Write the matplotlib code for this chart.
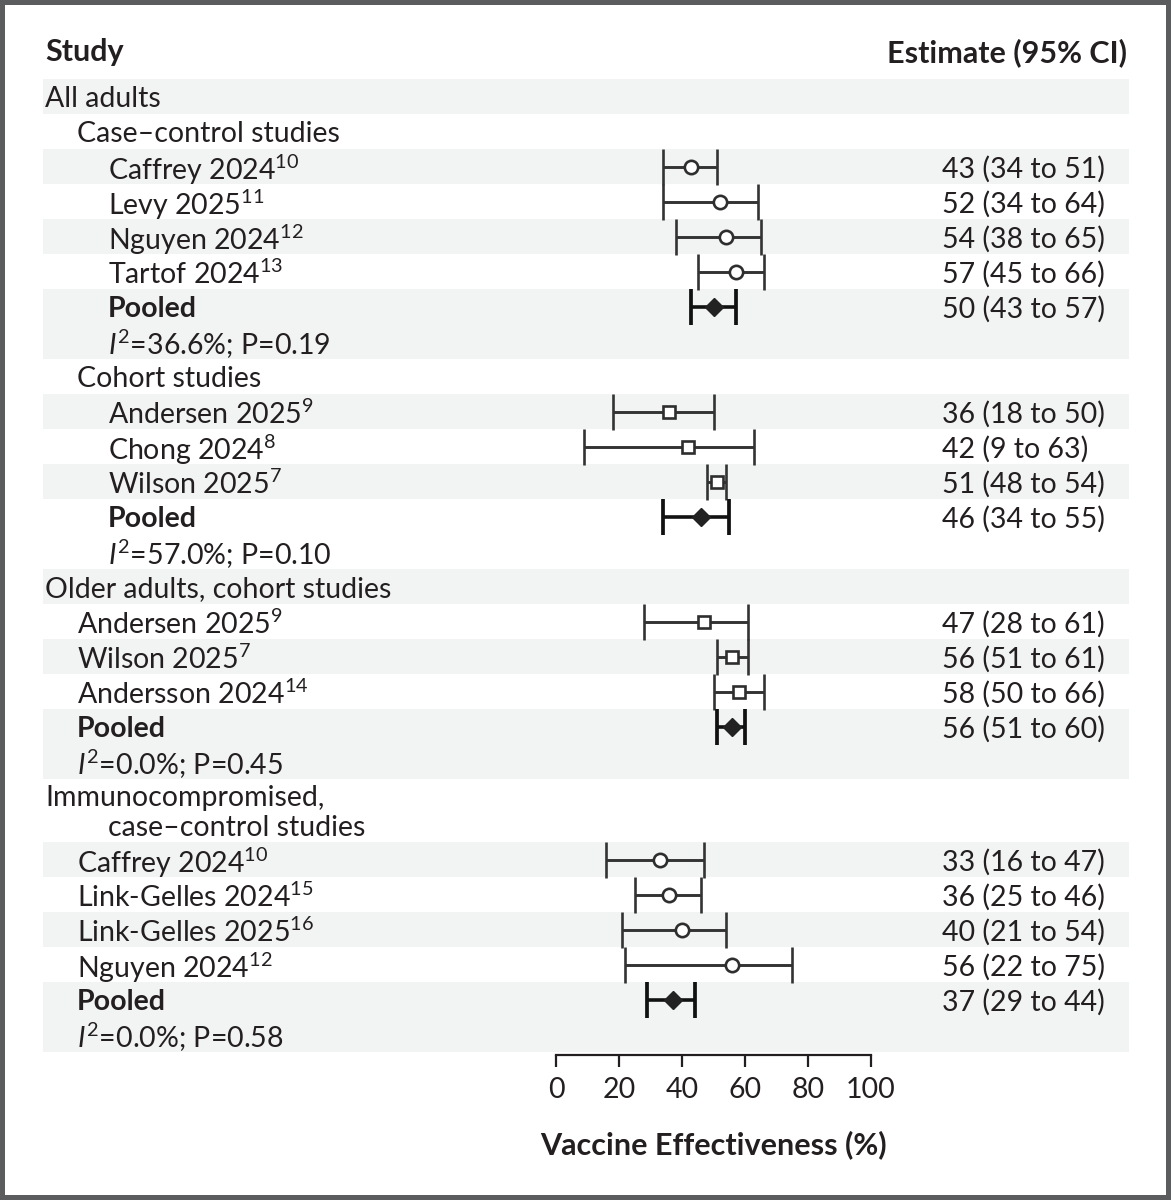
import matplotlib
matplotlib.use("Agg")
import matplotlib.pyplot as plt
from matplotlib.patches import Rectangle
from matplotlib.transforms import blended_transform_factory

plt.rcParams['font.family'] = ['Lato', 'DejaVu Sans']
plt.rcParams['mathtext.fontset'] = 'custom'
plt.rcParams['mathtext.rm'] = 'Lato'
plt.rcParams['mathtext.it'] = 'Lato:italic'
plt.rcParams['mathtext.bf'] = 'Lato:bold'
plt.rcParams['mathtext.default'] = 'regular'

## Data

adults_cc_names = ["Caffrey 2024", "Levy 2025", "Nguyen 2024", "Tartof 2024"]
adults_cc_refs = ["10", "11", "12", "13"]
adults_cc_est = [43, 52, 54, 57]
adults_cc_lo = [34, 34, 38, 45]
adults_cc_hi = [51, 64, 65, 66]
adults_cc_pooled = [50, 43, 57]
adults_cc_het = ["36.6%", "0.19"]

adults_coh_names = ["Andersen 2025", "Chong 2024", "Wilson 2025"]
adults_coh_refs = ["9", "8", "7"]
adults_coh_est = [36, 42, 51]
adults_coh_lo = [18, 9, 48]
adults_coh_hi = [50, 63, 54]
adults_coh_pooled = [46, 34, 55]
adults_coh_het = ["57.0%", "0.10"]

older_names = ["Andersen 2025", "Wilson 2025", "Andersson 2024"]
older_refs = ["9", "7", "14"]
older_est = [47, 56, 58]
older_lo = [28, 51, 50]
older_hi = [61, 61, 66]
older_pooled = [56, 51, 60]
older_het = ["0.0%", "0.45"]

immuno_names = ["Caffrey 2024", "Link-Gelles 2024", "Link-Gelles 2025", "Nguyen 2024"]
immuno_refs = ["10", "15", "16", "12"]
immuno_est = [33, 36, 40, 56]
immuno_lo = [16, 25, 21, 22]
immuno_hi = [47, 46, 54, 75]
immuno_pooled = [37, 29, 44]
immuno_het = ["0.0%", "0.58"]

xticks = [0, 20, 40, 60, 80, 100]

## Layout (pixels of the 1171x1200 picture)

W, H = 1171, 1200
ROW = 35.0
TOP = 79
AXIS_Y = 1055
X0, X100 = 556, 871
INDENT = [45, 77, 108]
EST_X = 942
BAND_L, BAND_R = 43, 1129
TXT = '#231f20'
BAND = '#f2f4f3'
FS = 20.5
FS_HEAD = 22


def row(label, level, bold=False, point=None, h=1.0, label2=None, level2=None):
    return dict(label=label, level=level, bold=bold, point=point, h=h,
                label2=label2, level2=level2)


def study_blocks(names, refs, est, lo, hi, level, marker):
    return [[row(f"{n}$^{{{r}}}$", level, point=(marker, e, l, u))]
            for n, r, e, l, u in zip(names, refs, est, lo, hi)]


def pooled_block(pooled, het, level):
    return [[row("Pooled", level, bold=True, point=('D', *pooled)),
             row(rf"$\mathit{{I}}^{{2}}$={het[0]}; P={het[1]}", level)]]


blocks = []
blocks.append([row("All adults", 0)])
blocks.append([row("Case\u2013control studies", 1)])
blocks += study_blocks(adults_cc_names, adults_cc_refs, adults_cc_est,
                       adults_cc_lo, adults_cc_hi, 2, 'o')
blocks += pooled_block(adults_cc_pooled, adults_cc_het, 2)
blocks.append([row("Cohort studies", 1)])
blocks += study_blocks(adults_coh_names, adults_coh_refs, adults_coh_est,
                       adults_coh_lo, adults_coh_hi, 2, 's')
blocks += pooled_block(adults_coh_pooled, adults_coh_het, 2)
blocks.append([row("Older adults, cohort studies", 0)])
blocks += study_blocks(older_names, older_refs, older_est, older_lo, older_hi, 1, 's')
blocks += pooled_block(older_pooled, older_het, 1)
blocks.append([row("Immunocompromised,", 0, h=1.8,
                   label2="case\u2013control studies", level2=2)])
blocks += study_blocks(immuno_names, immuno_refs, immuno_est, immuno_lo, immuno_hi, 1, 'o')
blocks += pooled_block(immuno_pooled, immuno_het, 1)

## Figure

fig = plt.figure(figsize=(W / 100, H / 100), dpi=100)
fig.patch.set_edgecolor('#5b5c5e')
fig.patch.set_linewidth(5.8)

ax = fig.add_axes([X0 / W, 1 - AXIS_Y / H, (X100 - X0) / W, (AXIS_Y - TOP) / H])
ax.patch.set_visible(False)
tr = blended_transform_factory(fig.transFigure, ax.transData)

y = 0.0
for i, block in enumerate(blocks):
    bh = sum(r['h'] for r in block)
    if i % 2 == 0:
        ax.add_patch(Rectangle((BAND_L / W, y), (BAND_R - BAND_L) / W, bh,
                               transform=tr, facecolor=BAND, edgecolor='none',
                               zorder=0, clip_on=False))
    for r in block:
        if r['label2'] is None:
            ax.text(INDENT[r['level']] / W, y + r['h'] / 2, r['label'], transform=tr,
                    ha='left', va='center_baseline', fontsize=FS, color=TXT,
                    fontweight='bold' if r['bold'] else 'normal')
        else:
            ax.text(INDENT[r['level']] / W, y + 0.46, r['label'], transform=tr,
                    ha='left', va='center_baseline', fontsize=FS, color=TXT)
            ax.text(INDENT[r['level2']] / W, y + 1.32, r['label2'], transform=tr,
                    ha='left', va='center_baseline', fontsize=FS, color=TXT)
        if r['point'] is not None:
            m, e, lo, hi = r['point']
            yc = y + r['h'] / 2
            if m == 'D':
                ax.errorbar(e, yc, xerr=[[e - lo], [hi - e]], fmt='D', ms=9.4,
                            mfc='#222222', mec='#222222', ecolor='#111111',
                            elinewidth=2.6, capsize=13, capthick=2.7,
                            clip_on=False, zorder=3)
            else:
                ax.errorbar(e, yc, xerr=[[e - lo], [hi - e]], fmt=m,
                            ms=9.6 if m == 'o' else 8.4, mfc='white', mec='#2e2e2e',
                            mew=1.9, ecolor='#333333', elinewidth=2.1,
                            capsize=13, capthick=2.2, clip_on=False, zorder=3)
            ax.text(EST_X / W, yc, f"{e} ({lo} to {hi})", transform=tr,
                    ha='left', va='center_baseline', fontsize=FS, color=TXT)
        y += r['h']

ax.set_xlim(0, 100)
ax.set_ylim((AXIS_Y - TOP) / ROW, 0)
ax.set_xticks(xticks)
ax.set_yticks([])
for s in ['top', 'left', 'right']:
    ax.spines[s].set_visible(False)
ax.spines['bottom'].set_linewidth(1.6)
ax.spines['bottom'].set_color(TXT)
ax.tick_params(axis='x', direction='out', length=8.6, width=1.6, pad=7,
               labelsize=FS, colors=TXT)
ax.set_xlabel("Vaccine Effectiveness (%)", fontsize=FS_HEAD, fontweight='bold',
              color=TXT, labelpad=20)

fig.text(INDENT[0] / W, 1 - 50 / H, "Study", ha='left', va='center_baseline',
         fontsize=FS_HEAD, fontweight='bold', color=TXT)
fig.text(1127 / W, 1 - 50 / H, "Estimate (95% CI)", ha='right', va='center_baseline',
         fontsize=FS_HEAD, fontweight='bold', color=TXT)

fig.savefig("out.png", dpi=100)
